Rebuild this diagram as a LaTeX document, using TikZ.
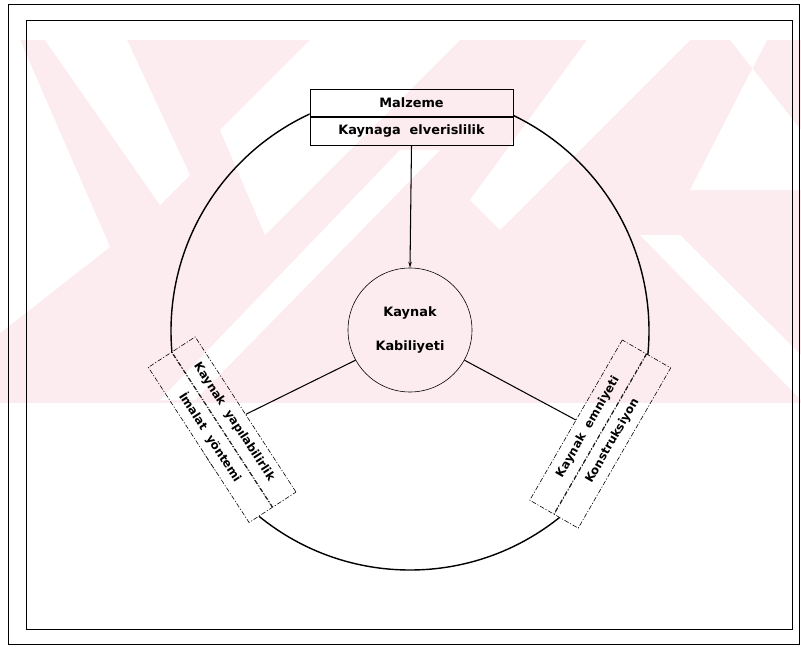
\documentclass[tikz,border=0pt]{standalone}
\usepackage{fontspec}
\setmainfont{DejaVu Sans}
\usetikzlibrary{arrows.meta,positioning}

\definecolor{wmpink}{RGB}{253,236,239}

\begin{document}
\begin{tikzpicture}[
                x=0.03cm, y=-0.03cm,
                frame/.style={line width=0.8pt},
                ring/.style={line width=1.2pt},
                lbl/.style={font=\fontsize{11}{14}\selectfont\bfseries},
                topbox/.style={draw, lbl, line width=0.6pt, minimum width=6.09cm, minimum height=0.83cm, inner sep=0pt},
                sidebox/.style={draw, font=\fontsize{10}{12}\selectfont\bfseries, dash pattern=on 4pt off 1.5pt on 1pt off 1.5pt, line width=0.5pt, minimum width=5.55cm, minimum height=0.83cm, inner sep=0pt},
                link/.style={line width=0.9pt}
            ]
            % page size
            \useasboundingbox (0,0) rectangle (801,647);

            % faint watermark in the background
            \fill[wmpink] (0,40) rectangle (801,403);
            \begin{scope}
                \clip (0,40) rectangle (801,403);
                \fill[white] (45,40) -- (127,40) -- (190,175) -- (160,205) -- cycle;
                \fill[white] (0,40) -- (20,40) -- (110,247) -- (0,333) -- cycle;
                \fill[white] (310,40) -- (460,40) -- (265,235) -- (220,130) -- cycle;
                \fill[white] (587,40) -- (690,40) -- (500,230) -- (470,200) -- cycle;
                \fill[white] (730,40) -- (767,40) -- (690,190) -- (801,190) -- (801,130) -- cycle;
                \fill[white] (400,150) -- (440,150) -- (195,400) -- (160,400) -- cycle;
                \fill[white] (640,235) -- (680,235) -- (801,355) -- (801,400) -- cycle;
            \end{scope}

            % frames
            \draw[frame] (8,4) rectangle (799,644);
            \draw[frame] (26,20) rectangle (792,629);

            % centre
            \coordinate (O) at (410,331);

            % top box
            \node[topbox] (malz) at (411.5,103) {Malzeme};
            \node[topbox, below=0pt of malz] (elv) {Kaynaga\ \ elverislilik};

            % left box
            \node[sidebox, rotate=-57] (kyap) at (234,422) {Kaynak\ \ yapılabilirlik};
            \node[sidebox, rotate=-57, anchor=north] (imal) at (kyap.south) {İmalat\ \ yöntemi};

            % right box
            \node[sidebox, rotate=60] (kemn) at (588,427) {Kaynak\ \ emniyeti};
            \node[sidebox, rotate=60, anchor=north] (kons) at (kemn.south) {Konstruksiyon};

            % big ring, hidden inside the boxes
            \begin{scope}[even odd rule]
                \clip (0,0) rectangle (801,647)
                    (malz.north west) -- (malz.north east) -- (elv.south east) -- (elv.south west) -- cycle
                    (kyap.north west) -- (kyap.north east) -- (imal.south east) -- (imal.south west) -- cycle
                    (kemn.north west) -- (kemn.north east) -- (kons.south east) -- (kons.south west) -- cycle;
                \draw[ring] (O) circle[radius=239];
            \end{scope}

            % centre circle
            \node[circle, draw, lbl, line width=0.5pt, minimum size=3.72cm, align=center] (kab) at (410,330) {Kaynak\\[0.5cm]Kabiliyeti};

            % connectors
            \draw[link, -{Stealth[length=5pt, width=3pt]}] (elv.south) -- (kab.north);
            \draw[link] (kab.209) -- (kyap.north);
            \draw[link] (kab.-29) -- (kemn.north);
        \end{tikzpicture}
\end{document}
